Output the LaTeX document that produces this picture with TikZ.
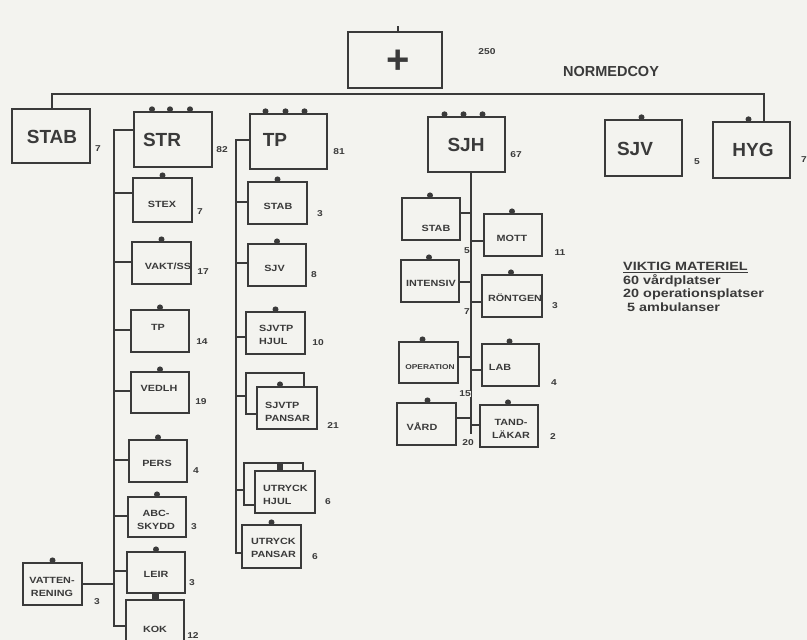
\documentclass[tikz,border=0pt]{standalone}
\usepackage{fontspec}
\setmainfont{Liberation Sans}
\newfontfamily\wide[FakeStretch=1.2]{Liberation Sans}
\usetikzlibrary{calc}
\definecolor{ink}{RGB}{58,58,58}
\definecolor{paper}{RGB}{243,243,239}
\begin{document}
\begin{tikzpicture}[x=1pt,y=-1pt,
  bigbox/.style={draw=ink, line width=1.4pt, fill=paper, inner sep=0pt, minimum width=77pt, minimum height=55pt},
  sbox/.style={draw=ink, line width=1.2pt, fill=paper, inner sep=0pt, minimum width=58pt, minimum height=42pt},
  biglbl/.style={font=\fontsize{19}{19}\selectfont\bfseries, text=ink, inner sep=0pt},
  slbl/.style={font=\wide\fontsize{9}{13}\selectfont\bfseries, text=ink, inner sep=0pt, align=center},
  llbl/.style={font=\wide\fontsize{9}{13}\selectfont\bfseries, text=ink, inner sep=0pt, align=left, anchor=west},
  numlbl/.style={font=\wide\fontsize{8.5}{9}\selectfont\bfseries, text=ink, inner sep=0pt},
  conn/.style={draw=ink, line width=1.2pt},
  udot/.style={fill=ink}
]
\useasboundingbox (0,0) rectangle (807,640);
\fill[paper] (0,0) rectangle (807,640);
\clip (0,0) rectangle (807,640);

% ---------- top ----------
\node[bigbox, minimum width=94pt, minimum height=56pt] (top) at (395,60) {};
\node[font=\fontsize{40}{40}\selectfont\bfseries, text=ink, inner sep=0pt] (plus) at (398,62) {+};
\coordinate (tick) at (398,26);
\draw[conn] (tick) -- (top.north -| tick);
\node[numlbl] (n250) at (487,52) {250};
\node[font=\fontsize{14.5}{15}\selectfont\bfseries, text=ink, inner sep=0pt] (normed) at (611,72) {NORMEDCOY};

% ---------- main boxes ----------
\node[bigbox, minimum width=78pt, minimum height=54pt] (stab) at (51,136) {};
\node[biglbl] (stabt) at (52,137) {STAB};
\node[numlbl] (nstab) at (98,149) {7};

\node[bigbox, minimum width=78pt] (str) at (173,139.5) {};
\node[biglbl] (strt) at (162,140) {STR};
\node[numlbl] (nstr) at (222,150) {82};

\node[bigbox] (tp) at (288.5,141.5) {};
\node[biglbl] (tpt) at (275,140) {TP};
\node[numlbl] (ntp) at (339,152) {81};

\node[bigbox] (sjh) at (466.5,144.5) {};
\node[biglbl] (sjht) at (466,145) {SJH};
\node[numlbl] (nsjh) at (516,155) {67};

\node[bigbox, minimum height=56pt] (sjv) at (643.5,148) {};
\node[biglbl] (sjvt) at (635,149) {SJV};
\node[numlbl] (nsjv) at (697,162) {5};

\node[bigbox, minimum height=56pt] (hyg) at (751.5,150) {};
\node[biglbl] (hygt) at (753,150) {HYG};
\node[numlbl] (nhyg) at (804,160) {7};

\foreach \n/\dx in {str/-21, str/-3, str/17, tp/-23, tp/-3, tp/16, sjh/-22, sjh/-3, sjh/16, sjv/-2, hyg/-3}
  \fill[udot] ($(\n.north)+(\dx,-2)$) circle (3);

% ---------- bus ----------
\coordinate (busL) at (52,94);
\coordinate (busR) at (764,94);
\draw[conn, line width=1.4pt] (busL |- stab.north) -- (busL) -- (busR) -- (busR |- hyg.north);

% ---------- STR column ----------
\node[sbox, minimum width=59pt, minimum height=44pt] (stex) at (162.5,200) {};
\node[slbl] (stext) at (162,204) {STEX};
\node[numlbl] (nstex) at (200,212) {7};

\node[sbox, minimum width=59pt] (vakt) at (161.5,263) {};
\node[slbl] (vaktt) at (168,266) {VAKT/SS};
\node[numlbl] (nvakt) at (203,272) {17};

\node[sbox] (strtp) at (160,331) {};
\node[slbl] (strtpt) at (158,327) {TP};
\node[numlbl] (nstrtp) at (202,342) {14};

\node[sbox, minimum height=41pt] (vedlh) at (160,392.5) {};
\node[slbl] (vedlht) at (159,388) {VEDLH};
\node[numlbl] (nvedlh) at (201,402) {19};

\node[sbox] (pers) at (158,461) {};
\node[slbl] (perst) at (157,463) {PERS};
\node[numlbl] (npers) at (196,471) {4};

\node[sbox, minimum height=40pt] (abc) at (157,517) {};
\node[slbl] (abct) at (156,520) {ABC-\\SKYDD};
\node[numlbl] (nabc) at (194,527) {3};

\node[sbox, minimum height=41pt] (leir) at (156,572.5) {};
\node[slbl] (leirt) at (156,574) {LEIR};
\node[numlbl] (nleir) at (192,583) {3};

\node[sbox, minimum height=45pt] (kok) at (155,622.5) {};
\node[slbl] (kokt) at (155,629) {KOK};
\node[numlbl] (nkok) at (193,636) {12};

\node[sbox, minimum width=59pt] (vatten) at (52.5,584) {};
\node[slbl] (vattent) at (52,587) {VATTEN-\\RENING};
\node[numlbl] (nvatten) at (97,602) {3};

\foreach \n in {stex, vakt, strtp, vedlh, pers, abc, leir, vatten}
  \fill[udot] ($(\n.north)+(0,-2)$) circle (3);
\fill[udot] ($(kok.north)+(-3,0)$) rectangle ($(leir.south)+(3,0)$);

\coordinate (strL) at (114,130);
\coordinate (strB) at (114,626);
\draw[conn] (str.west |- strL) -- (strL) -- (strB) -- (kok.west |- strB);
\foreach \n/\yy in {stex/193, vakt/262, strtp/330, vedlh/391, pers/460, abc/516, leir/571}
  \draw[conn] (strL |- 0,\yy) -- (\n.west |- 0,\yy);
\draw[conn] (vatten.east |- 0,584) -- (strL |- 0,584);

% ---------- TP column ----------
\node[sbox, minimum width=59pt] (stab2) at (277.5,203) {};
\node[slbl] (stab2t) at (278,206) {STAB};
\node[numlbl] (nstab2) at (320,214) {3};

\node[sbox] (sjv2) at (277,265) {};
\node[slbl] (sjv2t) at (274.5,268) {SJV};
\node[numlbl] (nsjv2) at (314,275) {8};

\node[sbox, minimum width=59pt] (hjul) at (275.5,333) {};
\node[llbl] (hjult) at (259,334.5) {SJVTP\\HJUL};
\node[numlbl] (nhjul) at (318,343) {10};

\node[sbox, minimum height=41pt] (pansarB) at (275,393.5) {};
\node[sbox, minimum width=60pt] (pansarF) at (287,408) {};
\node[llbl] (pansart) at (265,411.5) {SJVTP\\PANSAR};
\node[numlbl] (npansar) at (333,426) {21};

\node[sbox, minimum width=59pt] (uhjulB) at (273.5,484) {};
\node[sbox, minimum width=60pt] (uhjulF) at (285,492) {};
\node[llbl] (uhjult) at (263,494.5) {UTRYCK\\HJUL};
\node[numlbl] (nuhjul) at (328,502) {6};

\node[sbox, minimum width=59pt, minimum height=43pt] (upansar) at (271.5,546.5) {};
\node[llbl] (upansart) at (251,547.5) {UTRYCK\\PANSAR};
\node[numlbl] (nupansar) at (315,557) {6};

\foreach \n in {stab2, sjv2, hjul, upansar}
  \fill[udot] ($(\n.north)+(0,-2)$) circle (3);
\fill[udot] ($(pansarF.north)+(-7,-2)$) circle (3);
\fill[udot] ($(uhjulF.north)+(-8,0)$) rectangle ($(uhjulB.north)+(9,0)$);

\coordinate (tpL) at (236,140);
\coordinate (tpB) at (236,553);
\draw[conn] (tp.west |- tpL) -- (tpL) -- (tpB) -- (upansar.west |- tpB);
\foreach \n/\yy in {stab2/202, sjv2/263, hjul/337, pansarB/396, uhjulB/490}
  \draw[conn] (tpL |- 0,\yy) -- (\n.west |- 0,\yy);

% ---------- SJH column ----------
\node[sbox] (sstab) at (431,219) {};
\node[slbl] (sstabt) at (436,228) {STAB};

\node[sbox] (mott) at (513,235) {};
\node[slbl] (mottt) at (512,238) {MOTT};
\node[numlbl] (nmott) at (560,253) {11};

\node[sbox] (intensiv) at (430,281) {};
\node[slbl] (intensivt) at (431,283) {INTENSIV};

\node[sbox, minimum width=60pt] (rontgen) at (512,296) {};
\node[slbl] (rontgent) at (515,298) {RÖNTGEN};
\node[numlbl] (nrontgen) at (555,306) {3};

\node[sbox, minimum width=59pt, minimum height=41pt] (operation) at (428.5,362.5) {};
\node[slbl, font=\wide\fontsize{7}{8}\selectfont\bfseries] (operationt) at (430,367) {OPERATION};

\node[sbox, minimum width=57pt] (lab) at (510.5,365) {};
\node[slbl] (labt) at (500,367) {LAB};
\node[numlbl] (nlab) at (554,383) {4};

\node[sbox, minimum width=59pt] (vard) at (426.5,424) {};
\node[slbl] (vardt) at (422,427) {VÅRD};

\node[sbox] (tand) at (509,426) {};
\node[slbl] (tandt) at (511,428.5) {TAND-\\LÄKAR};
\node[numlbl] (ntand) at (553,437) {2};

\foreach \n/\dx in {sstab/-1, mott/-1, intensiv/-1, rontgen/-1, operation/-6, lab/-1, vard/1, tand/-1}
  \fill[udot] ($(\n.north)+(\dx,-2)$) circle (3);

\coordinate (sjhB) at (471,434);
\draw[conn] (sjh.south -| sjhB) -- (sjhB);
\foreach \n/\yy in {sstab/213, intensiv/282, operation/357, vard/418}
  \draw[conn] (\n.east |- 0,\yy) -- (sjhB |- 0,\yy);
\foreach \n/\yy in {mott/241, rontgen/302, lab/370, tand/425}
  \draw[conn] (sjhB |- 0,\yy) -- (\n.west |- 0,\yy);

\node[numlbl, fill=paper, inner sep=0.5pt] (l5) at (467,251) {5};
\node[numlbl, fill=paper, inner sep=0.5pt] (l7) at (467,312) {7};
\node[numlbl, fill=paper, inner sep=0.5pt] (l15) at (465,394) {15};
\node[numlbl, fill=paper, inner sep=0.5pt] (l20) at (468,443) {20};

% ---------- note ----------
\node[font=\wide\fontsize{12}{13.5}\selectfont\bfseries, text=ink, inner sep=0pt, align=left, anchor=north west] (note) at (623,262)
  {\underline{VIKTIG MATERIEL}\\60 vårdplatser\\20 operationsplatser\\\ 5 ambulanser};
\end{tikzpicture}
\end{document}
